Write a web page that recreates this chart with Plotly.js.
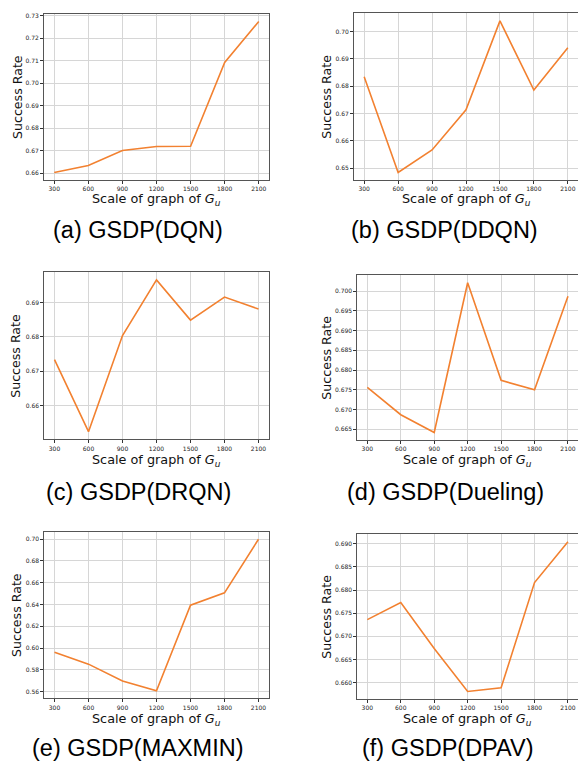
<!DOCTYPE html>
<html>
<head>
<meta charset="utf-8">
<script src="https://cdn.plot.ly/plotly-3.0.1.min.js"></script>
<style>html,body{margin:0;padding:0;background:#fff;}#chart{width:578px;height:762px;}</style>
</head>
<body>
<div id="chart"></div>
<script>
// ---- data ----
const sizes = [300, 600, 900, 1200, 1500, 1800, 2100];
const sizeLabels = ["300", "600", "900", "1200", "1500", "1800", "2100"];
const dqn     = [0.6604, 0.6635, 0.6701, 0.6719, 0.6720, 0.7092, 0.7273];
const ddqn    = [0.6835, 0.6485, 0.6567, 0.6714, 0.7039, 0.6786, 0.6941];
const drqn    = [0.6734, 0.6524, 0.6804, 0.6966, 0.6849, 0.6916, 0.6881];
const dueling = [0.6756, 0.6687, 0.6642, 0.7021, 0.6774, 0.6750, 0.6987];
const maxmin  = [0.5962, 0.5853, 0.5698, 0.5609, 0.6394, 0.6507, 0.6998];
const dpav    = [0.6736, 0.6773, 0.6674, 0.6581, 0.6589, 0.6816, 0.6904];

const yTicksA = [0.66, 0.67, 0.68, 0.69, 0.70, 0.71, 0.72, 0.73];
const yTicksB = [0.65, 0.66, 0.67, 0.68, 0.69, 0.70];
const yTicksC = [0.66, 0.67, 0.68, 0.69];
const yTicksD = [0.665, 0.670, 0.675, 0.680, 0.685, 0.690, 0.695, 0.700];
const yTicksE = [0.56, 0.58, 0.60, 0.62, 0.64, 0.66, 0.68, 0.70];
const yTicksF = [0.660, 0.665, 0.670, 0.675, 0.680, 0.685, 0.690];

const captions = ["(a) GSDP(DQN)", "(b) GSDP(DDQN)", "(c) GSDP(DRQN)",
                  "(d) GSDP(Dueling)", "(e) GSDP(MAXMIN)", "(f) GSDP(DPAV)"];

// ---- layout geometry (pixels) ----
const W = 578, H = 762;
const panels = [
  {y: dqn,     ticks: yTicksA, fmt: 2, box: [44, 269, 14, 180],    ytx: 17,  xt: 199, cy: 230, cx: 138},
  {y: ddqn,    ticks: yTicksB, fmt: 2, box: [354, 578, 13.3, 180], ytx: 327, xt: 199, cy: 230, cx: 444},
  {y: drqn,    ticks: yTicksC, fmt: 2, box: [44.3, 268.7, 272.3, 439.3], ytx: 16,  xt: 460, cy: 492, cx: 138},
  {y: dueling, ticks: yTicksD, fmt: 3, box: [357.3, 578, 275.3, 440],    ytx: 327, xt: 460, cy: 492, cx: 445},
  {y: maxmin,  ticks: yTicksE, fmt: 2, box: [44.3, 268.7, 531.7, 698.3], ytx: 16,  xt: 719, cy: 748, cx: 138},
  {y: dpav,    ticks: yTicksF, fmt: 3, box: [357.3, 578, 534.3, 699],    ytx: 327, xt: 719, cy: 748, cx: 447}
];

const px = v => v / W;
const py = v => 1 - v / H;

const traces = [];
const layout = {
  width: W, height: H,
  margin: {l: 0, r: 0, t: 0, b: 0},
  paper_bgcolor: "#ffffff",
  plot_bgcolor: "#ffffff",
  showlegend: false,
  annotations: []
};

const xmin = Math.min(...sizes), xmax = Math.max(...sizes);
const xpad = (xmax - xmin) * 0.05;

panels.forEach((p, i) => {
  const n = i + 1;
  const xa = "xaxis" + (n === 1 ? "" : n);
  const ya = "yaxis" + (n === 1 ? "" : n);
  traces.push({
    x: sizes, y: p.y, type: "scatter", mode: "lines",
    line: {color: "#f28130", width: 1.6},
    xaxis: "x" + (n === 1 ? "" : n), yaxis: "y" + (n === 1 ? "" : n),
    hoverinfo: "skip"
  });
  const ymin = Math.min(...p.y), ymax = Math.max(...p.y);
  const ypad = (ymax - ymin) * 0.05;
  const common = {
    showline: true, mirror: true, linecolor: "#555555", linewidth: 1,
    showgrid: true, gridcolor: "#d6d6d6", gridwidth: 1,
    zeroline: false, ticks: "outside", ticklen: 3, tickwidth: 1, tickcolor: "#333333",
    tickfont: {family: "DejaVu Sans", size: 6, color: "#222222"}
  };
  layout[xa] = Object.assign({}, common, {
    domain: [px(p.box[0]), px(p.box[1])],
    anchor: "y" + (n === 1 ? "" : n),
    range: [xmin - xpad, xmax + xpad],
    tickmode: "array", tickvals: sizes, ticktext: sizeLabels
  });
  layout[ya] = Object.assign({}, common, {
    domain: [py(p.box[3]), py(p.box[2])],
    anchor: "x" + (n === 1 ? "" : n),
    range: [ymin - ypad, ymax + ypad],
    tickmode: "array", tickvals: p.ticks,
    ticktext: p.ticks.map(v => v.toFixed(p.fmt))
  });
  // y title
  layout.annotations.push({
    xref: "paper", yref: "paper", x: px(p.ytx), y: py((p.box[2] + p.box[3]) / 2),
    text: "Success Rate", textangle: -90, showarrow: false,
    xanchor: "center", yanchor: "middle",
    font: {family: "DejaVu Sans", size: 12.6, color: "#111111"}
  });
  // x title
  layout.annotations.push({
    xref: "paper", yref: "paper", x: px((p.box[0] + p.box[1]) / 2), y: py(p.xt),
    text: "Scale of graph of <i>G<sub>u</sub></i>", showarrow: false,
    xanchor: "center", yanchor: "middle",
    font: {family: "DejaVu Sans", size: 12.8, color: "#111111"}
  });
  // caption
  layout.annotations.push({
    xref: "paper", yref: "paper", x: px(p.cx), y: py(p.cy),
    text: captions[i], showarrow: false,
    xanchor: "center", yanchor: "middle",
    font: {family: "Liberation Sans", size: 23.5, color: "#000000"}
  });
});

Plotly.newPlot("chart", traces, layout, {displayModeBar: false, staticPlot: true});
</script>
</body>
</html>
